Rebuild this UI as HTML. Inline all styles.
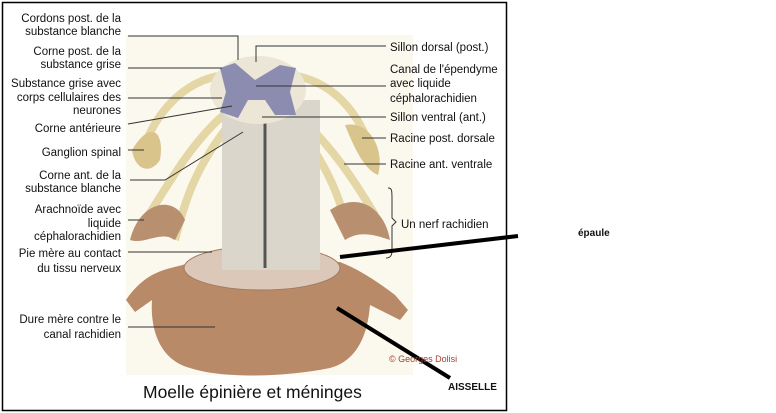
<!DOCTYPE html><html><head><style>body{margin:0;background:#fff;width:776px;height:413px;overflow:hidden}svg{display:block}text{font-family:"Liberation Sans",sans-serif;font-size:11.5px;fill:#111}</style></head><body>
<svg width="776" height="413" viewBox="0 0 776 413">
<rect x="2.5" y="2.5" width="504" height="408" fill="#fff" stroke="#000" stroke-width="1.5"/>
<rect x="126" y="35" width="287" height="340" fill="#fbf8ee"/>
<g stroke="#e3d39e" stroke-width="8" fill="none" opacity=".9">
<path d="M225 75 C180 80 150 120 140 160"/><path d="M230 110 C190 140 160 200 145 220"/><path d="M225 130 C195 170 185 200 175 240"/>
<path d="M290 75 C330 80 360 110 372 155"/><path d="M290 110 C330 140 360 190 375 215"/><path d="M300 130 C330 170 340 200 350 235"/>
</g>
<path d="M132 150 C150 120 165 130 160 160 C150 175 135 170 132 150Z" fill="#d9c48c"/>
<path d="M345 125 C370 120 385 150 378 175 C365 170 355 150 345 125Z" fill="#d9c48c"/>
<path d="M130 240 C140 200 175 195 185 220 L175 240 C160 230 145 245 130 240Z" fill="#b89070"/>
<path d="M330 210 C360 190 385 210 390 240 C375 235 360 230 345 240Z" fill="#b89070"/>
<path d="M126 300 C150 265 175 270 190 262 L340 262 C360 270 375 280 395 295 L408 310 L400 320 L370 305 C368 330 360 360 330 368 C280 378 220 378 190 368 C160 360 150 330 152 300 L135 312Z" fill="#b98a68"/>
<ellipse cx="262" cy="268" rx="78" ry="22" fill="#dcc8b8" stroke="#a07a60"/>
<rect x="222" y="100" width="98" height="170" fill="#dad6cc"/>
<line x1="265" y1="120" x2="265" y2="268" stroke="#555" stroke-width="3"/>
<ellipse cx="258" cy="90" rx="48" ry="34" fill="#ece6d6"/>
<path d="M220 68 L235 63 L255 80 L280 65 L296 68 L290 92 L296 115 L275 115 L265 100 L248 100 L238 118 L220 112 L226 92Z" fill="#8c8cb0"/>
<g stroke="#333" stroke-width="1" fill="none">
<path d="M128 36 L238 36 L238 60"/><path d="M128 68 L222 68"/><path d="M128 98 L222 98"/><path d="M128 124 L232 106"/>
<path d="M128 150 L144 150"/><path d="M130 180 L165 180 L243 132"/><path d="M128 220 L144 220"/><path d="M128 252 L212 252"/>
<path d="M128 327 L215 327"/><path d="M386 46 L256 46 L256 62"/><path d="M386 86 L256 86"/><path d="M386 117 L262 117"/>
<path d="M386 138 L362 138"/><path d="M386 164 L344 164"/><path d="M388 188 C392 188 392 190 392 200 L392 218 L396 222 L392 226 L392 250 C392 256 390 258 386 258"/>
</g>
<g stroke="#000" stroke-width="4"><line x1="340" y1="257" x2="518" y2="236"/><line x1="337" y1="308" x2="450" y2="378"/></g>
<g text-anchor="end">
<text x="121" y="22">Cordons post. de la</text><text x="121" y="35">substance blanche</text>
<text x="121" y="55">Corne post. de la</text><text x="121" y="68">substance grise</text>
<text x="121" y="87">Substance grise avec</text><text x="121" y="101">corps cellulaires des</text><text x="121" y="114">neurones</text>
<text x="121" y="132">Corne antérieure</text><text x="121" y="156">Ganglion spinal</text>
<text x="121" y="179">Corne ant. de la</text><text x="121" y="192">substance blanche</text>
<text x="121" y="213">Arachnoïde avec</text><text x="121" y="227">liquide</text><text x="121" y="240">céphalorachidien</text>
<text x="121" y="257">Pie mère au contact</text><text x="121" y="272">du tissu nerveux</text>
<text x="121" y="323">Dure mère contre le</text><text x="121" y="338">canal rachidien</text>
</g>
<text x="390" y="51">Sillon dorsal (post.)</text>
<text x="390" y="73">Canal de l'épendyme</text><text x="390" y="87">avec liquide</text><text x="390" y="102">céphalorachidien</text>
<text x="390" y="121">Sillon ventral (ant.)</text><text x="390" y="142">Racine post. dorsale</text><text x="390" y="168">Racine ant. ventrale</text>
<text x="401" y="228">Un nerf rachidien</text>
<text x="389" y="362" style="font-size:9px;fill:#a04030">© Georges Dolisi</text>
<text x="143" y="398" style="font-size:17.5px">Moelle épinière et méninges</text>
<text x="578" y="236" style="font-size:10px;font-weight:bold">épaule</text>
<text x="448" y="390" style="font-size:10px;font-weight:bold">AISSELLE</text>
</svg></body></html>
